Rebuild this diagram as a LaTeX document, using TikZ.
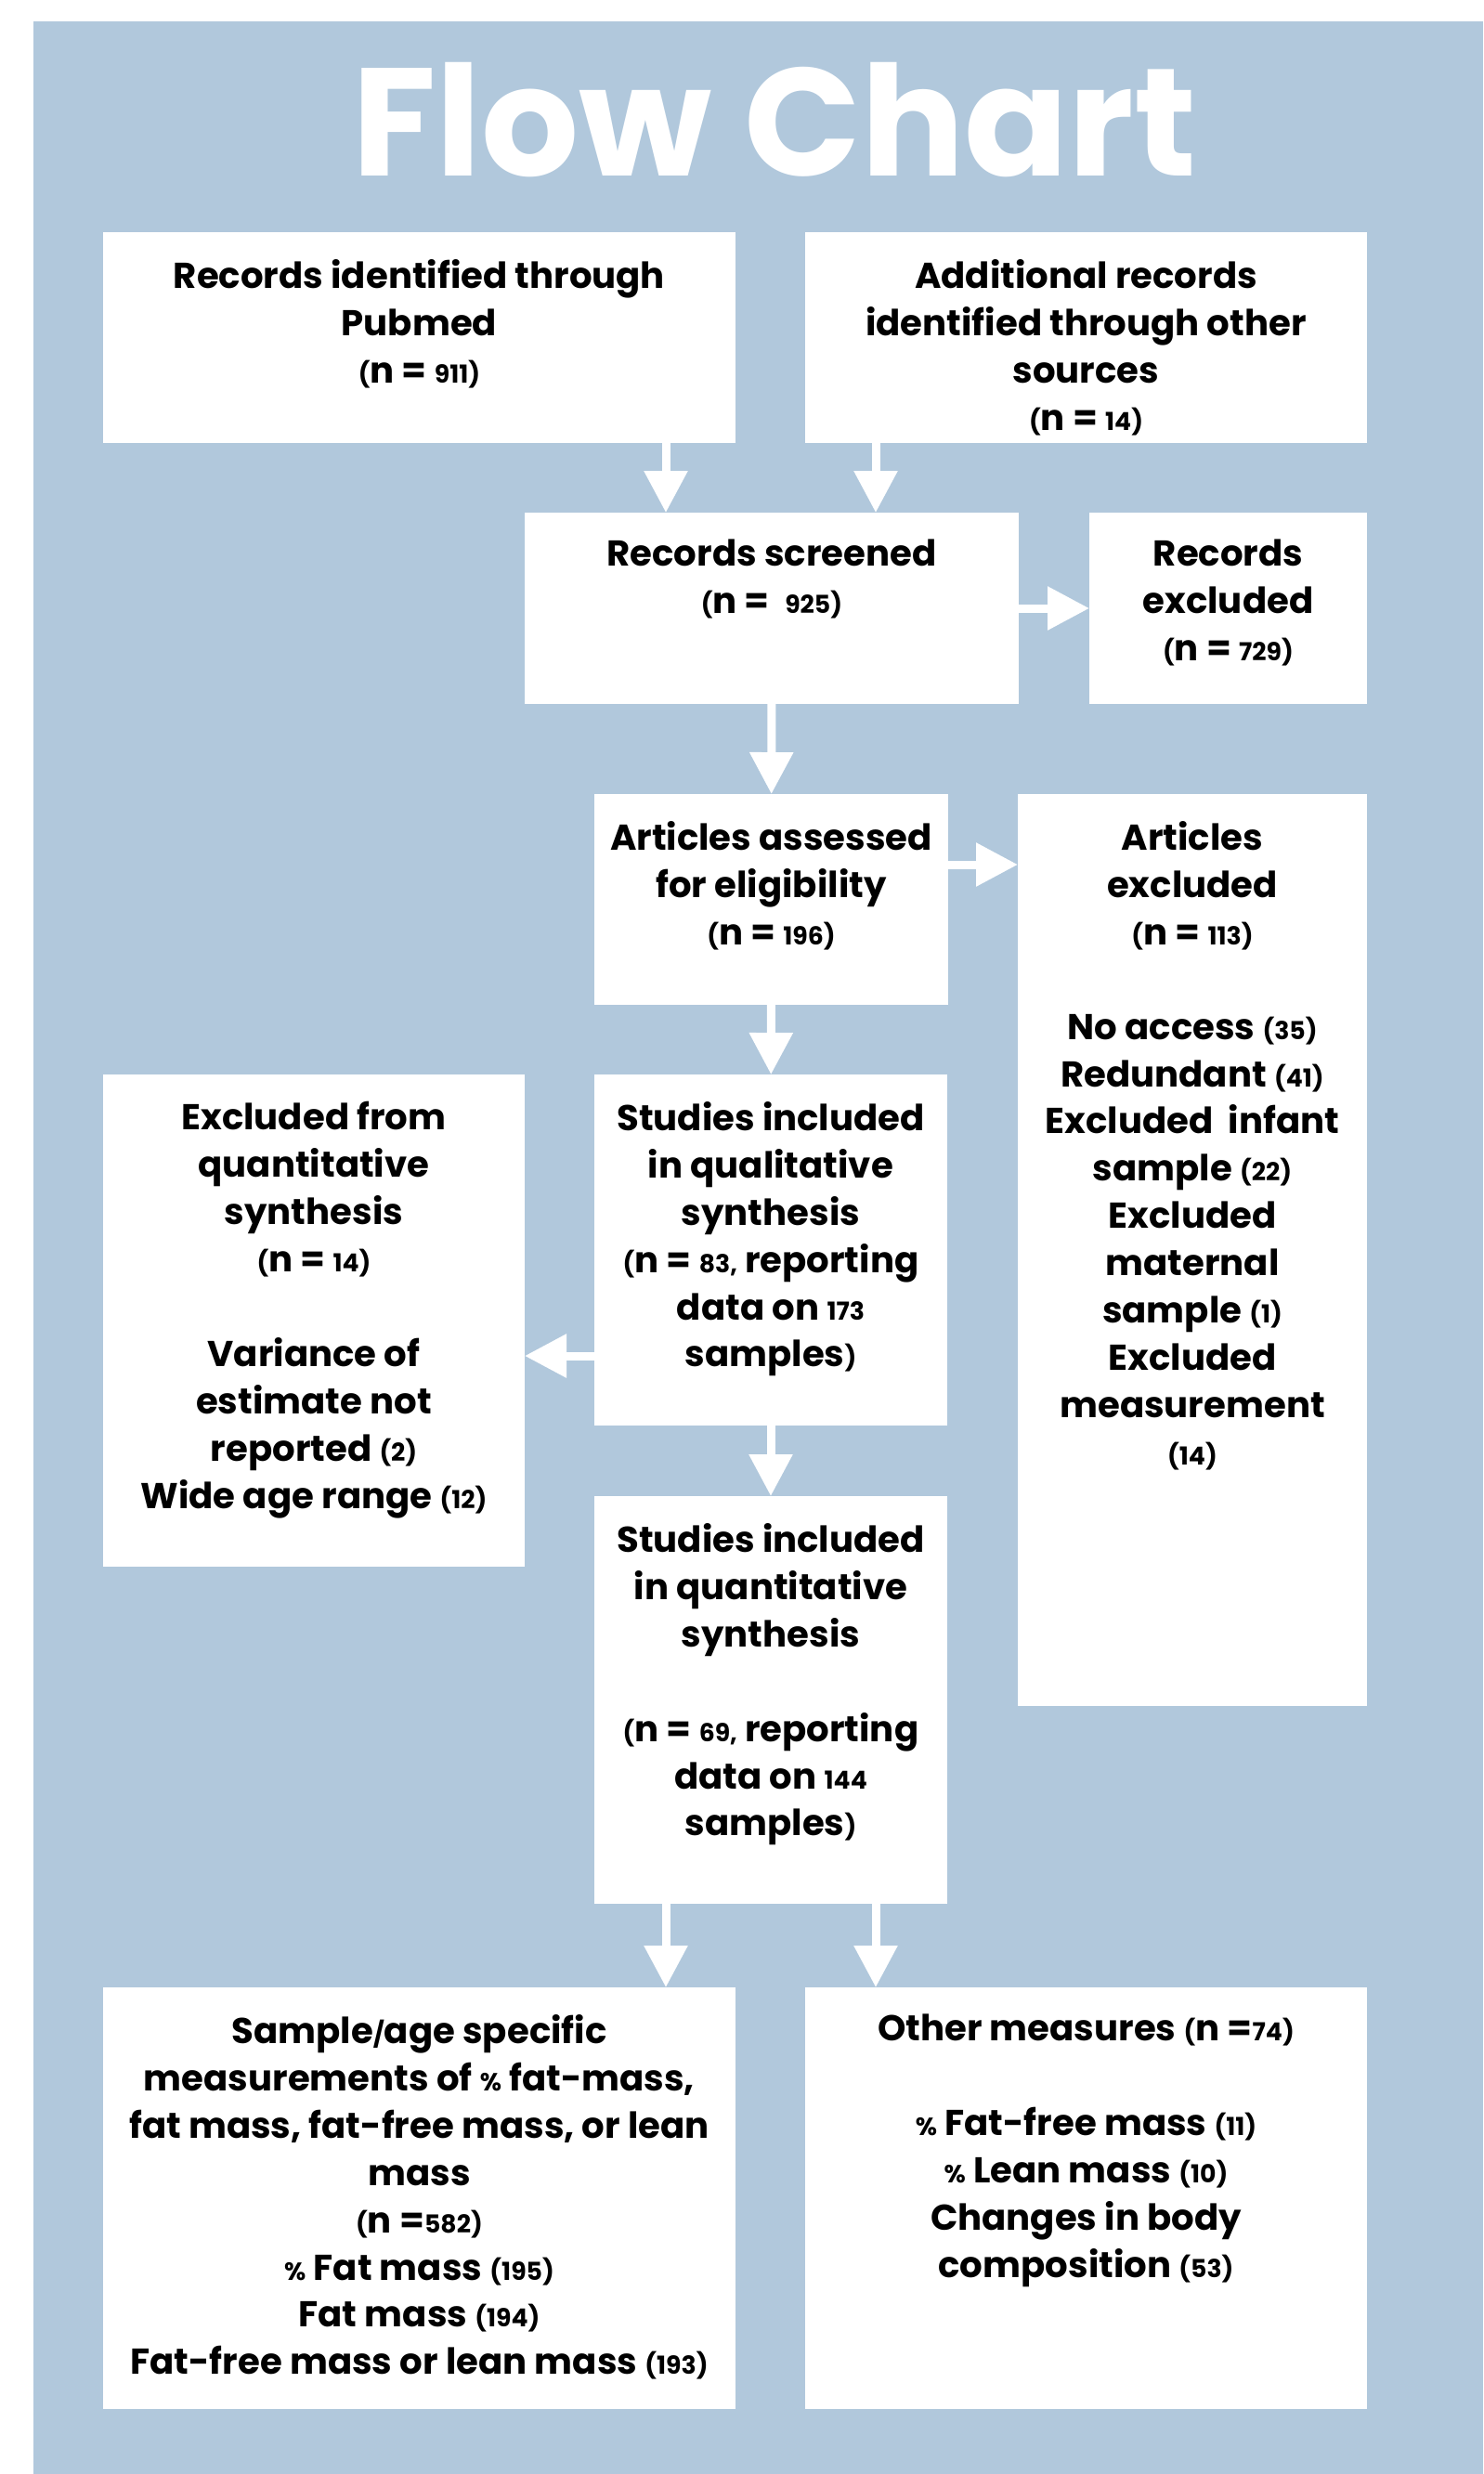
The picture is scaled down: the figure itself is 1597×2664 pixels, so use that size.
\documentclass[tikz,border=0pt]{standalone}
\usepackage{fontspec}
\setmainfont{Poppins}
\usetikzlibrary{arrows.meta}
\definecolor{bgblue}{RGB}{177,200,220}
\newcommand{\sm}[1]{{\fontsize{7.6}{7.6}\selectfont #1}}

\begin{document}
\begin{tikzpicture}[x=0.1mm, y=-0.1mm,
    box/.style={fill=white, inner sep=0pt, outer sep=0pt},
    txt/.style={anchor=north, align=center, inner sep=0pt,
        font=\fontsize{11}{14.5}\selectfont\bfseries},
    flow/.style={white, line width=0.9mm, -{Triangle[width=4.5mm, length=4.5mm]}},
    title/.style={white, font=\fontsize{47}{47}\selectfont\bfseries}
]
    \useasboundingbox (0,0) rectangle (1597,2664);
    \fill[bgblue] (36,23) rectangle (1597,2664);

    \node[title, anchor=base] (title) at (834,189) {Flow Chart};

    % boxes
    \node[box, minimum width=68.1mm, minimum height=22.7mm] (pubmed) at (451.5,363.5) {};
    \node[box, minimum width=60.5mm, minimum height=22.7mm] (other) at (1169.5,363.5) {};
    \node[box, minimum width=53.2mm, minimum height=20.6mm] (screened) at (831,655) {};
    \node[box, minimum width=29.9mm, minimum height=20.6mm] (recexcl) at (1322.5,655) {};
    \node[box, minimum width=38.1mm, minimum height=22.7mm] (eligib) at (830.5,968.5) {};
    \node[box, minimum width=37.6mm, minimum height=98.2mm] (artexcl) at (1284,1346) {};
    \node[box, minimum width=45.4mm, minimum height=53mm] (exclq) at (338,1422) {};
    \node[box, minimum width=38mm, minimum height=37.8mm] (qual) at (830,1346) {};
    \node[box, minimum width=38mm, minimum height=43.9mm] (quant) at (830,1830.5) {};
    \node[box, minimum width=68.1mm, minimum height=45.4mm] (measures) at (451.5,2367) {};
    \node[box, minimum width=60.5mm, minimum height=45.4mm] (othermeas) at (1169.5,2367) {};

    % box texts
    \node[txt] (pubmedtxt) at ([yshift=-2.85mm]pubmed.north)
        {Records identified through\\Pubmed\\\sm{(}n = \sm{911)}};
    \node[txt] (othertxt) at ([yshift=-2.85mm]other.north)
        {Additional records\\identified through other\\sources\\\sm{(}n = \sm{14)}};
    \node[txt] (screenedtxt) at ([yshift=-2.85mm]screened.north)
        {Records screened\\\sm{(}n = \ \sm{925)}};
    \node[txt] (recexcltxt) at ([yshift=-2.85mm]recexcl.north)
        {Records\\excluded\\\sm{(}n = \sm{729)}};
    \node[txt] (eligibtxt) at ([yshift=-2.85mm]eligib.north)
        {Articles assessed\\for eligibility\\\sm{(}n = \sm{196)}};
    \node[txt] (artexcltxt) at ([yshift=-2.85mm]artexcl.north)
        {Articles\\excluded\\\sm{(}n = \sm{113)}\\[14.5pt]No access \sm{(35)}\\Redundant \sm{(41)}\\Excluded \ infant\\sample \sm{(22)}\\Excluded\\maternal\\sample \sm{(1)}\\Excluded\\measurement\\\sm{(14)}};
    \node[txt] (exclqtxt) at ([yshift=-2.85mm]exclq.north)
        {Excluded from\\quantitative\\synthesis\\\sm{(}n = \sm{14)}\\[14.5pt]Variance of\\estimate not\\reported \sm{(2)}\\Wide age range \sm{(12)}};
    \node[txt] (qualtxt) at ([yshift=-2.85mm]qual.north)
        {Studies included\\in qualitative\\synthesis\\\sm{(}n = \sm{83,} reporting\\data on \sm{173}\\samples\sm{)}};
    \node[txt] (quanttxt) at ([yshift=-2.85mm]quant.north)
        {Studies included\\in quantitative\\synthesis\\[14.5pt]\sm{(}n = \sm{69,} reporting\\data on \sm{144}\\samples\sm{)}};
    \node[txt] (measurestxt) at ([yshift=-2.85mm]measures.north)
        {Sample\sm{/}age specific\\measurements of \sm{\%} fat-mass,\\fat mass, fat-free mass, or lean\\mass\\\sm{(}n =\sm{582)}\\\sm{\%} Fat mass \sm{(195)}\\Fat mass \sm{(194)}\\Fat-free mass or lean mass \sm{(193)}};
    \node[txt] (othermeastxt) at ([yshift=-2.85mm]othermeas.north)
        {Other measures \sm{(}n =\sm{74)}\\[14.5pt]\sm{\%} Fat-free mass \sm{(11)}\\\sm{\%} Lean mass \sm{(10)}\\Changes in body\\composition \sm{(53)}};

    % arrows
    \draw[flow] ([xshift=-7.5mm]pubmed.south east) -- ([xshift=-7.5mm]pubmed.south east |- screened.north);
    \draw[flow] ([xshift=7.6mm]other.south west) -- ([xshift=7.6mm]other.south west |- screened.north);
    \draw[flow] (screened) -- (recexcl);
    \draw[flow] (screened) -- (eligib);
    \draw[flow] ([yshift=-7.6mm]eligib.north east) -- ([yshift=-7.6mm]eligib.north east -| artexcl.west);
    \draw[flow] (eligib) -- (qual);
    \draw[flow] ([yshift=-30.3mm]qual.north west) -- ([yshift=-30.3mm]qual.north west -| exclq.east);
    \draw[flow] (qual) -- (quant);
    \draw[flow] ([xshift=-11.3mm]quant.south) -- ([xshift=-11.3mm]quant.south |- measures.north);
    \draw[flow] ([xshift=11.3mm]quant.south) -- ([xshift=11.3mm]quant.south |- othermeas.north);
\end{tikzpicture}
\end{document}
